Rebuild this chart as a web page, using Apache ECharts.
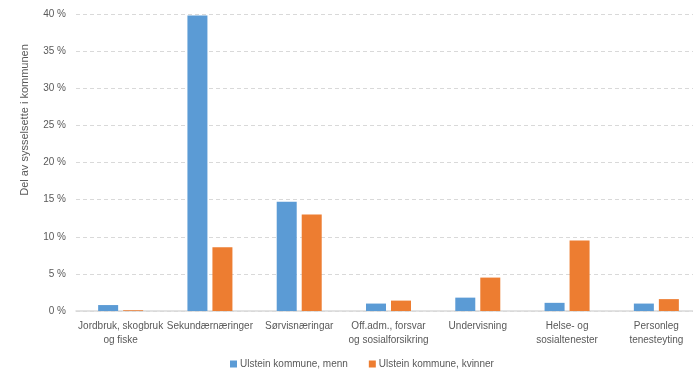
<!DOCTYPE html>
<html>
<head>
<meta charset="utf-8">
<script src="https://cdn.jsdelivr.net/npm/echarts@6/dist/echarts.min.js"></script>
<style>
  html, body { margin: 0; padding: 0; background: #fff; }
  #chart { width: 693px; height: 371px; }
</style>
</head>
<body>
<div id="chart"></div>
<script>
// Sectors (x axis)
const categories = [
  'Jordbruk, skogbruk\nog fiske',
  'Sekundærnæringer',
  'Sørvisnæringar',
  'Off.adm., forsvar\nog sosialforsikring',
  'Undervisning',
  'Helse- og\nsosialtenester',
  'Personleg\ntenesteyting'
];

// Share of employed in the municipality, percent
const menn = [0.8, 39.8, 14.7, 1.0, 1.8, 1.1, 1.0];
const kvinner = [0.1, 8.6, 13.0, 1.4, 4.5, 9.5, 1.6];

const seriesNames = ['Ulstein kommune, menn', 'Ulstein kommune, kvinner'];
const yTicks = { min: 0, max: 40, interval: 5 };
const yTitle = 'Del av sysselsette i kommunen';

const font = '"Liberation Sans", Arial, sans-serif';
const textColor = '#595959';

const chart = echarts.init(document.getElementById('chart'), null, { renderer: 'canvas' });

chart.setOption({
  animation: false,
  textStyle: { fontFamily: font },
  // plot area runs a little past the right edge of the canvas
  grid: {
    left: 76, width: 625, top: 14, height: 297,
    containLabel: false,
    outerBoundsMode: 'none'
  },
  legend: {
    top: 354,
    left: 225,
    itemWidth: 7,
    itemHeight: 7,
    itemGap: 21,
    icon: 'rect',
    textStyle: { color: textColor, fontSize: 10, fontFamily: font, padding: [0, 0, 0, -2] },
    data: seriesNames
  },
  graphic: [{
    type: 'text',
    x: 25,
    y: 120,
    rotation: Math.PI / 2,
    style: {
      text: yTitle,
      fill: textColor,
      font: '11px ' + font,
      align: 'center',
      verticalAlign: 'middle'
    }
  }],
  xAxis: {
    type: 'category',
    data: categories,
    axisTick: { show: false },
    axisLine: { lineStyle: { color: '#d9d9d9', width: 1.5 } },
    axisLabel: {
      interval: 0,
      color: textColor,
      fontSize: 10,
      lineHeight: 14,
      margin: 8
    }
  },
  yAxis: {
    type: 'value',
    min: yTicks.min,
    max: yTicks.max,
    interval: yTicks.interval,
    axisLine: { show: false },
    axisTick: { show: false },
    axisLabel: {
      color: textColor,
      fontSize: 10,
      margin: 10,
      formatter: '{value} %'
    },
    splitLine: { lineStyle: { color: '#d9d9d9', type: [4, 3], width: 1 } }
  },
  series: [
    {
      name: seriesNames[0],
      type: 'bar',
      data: menn,
      barWidth: 20,
      barGap: '25%',
      itemStyle: { color: '#5B9BD5' }
    },
    {
      name: seriesNames[1],
      type: 'bar',
      data: kvinner,
      barWidth: 20,
      itemStyle: { color: '#ED7D31' }
    }
  ]
});
</script>
</body>
</html>
